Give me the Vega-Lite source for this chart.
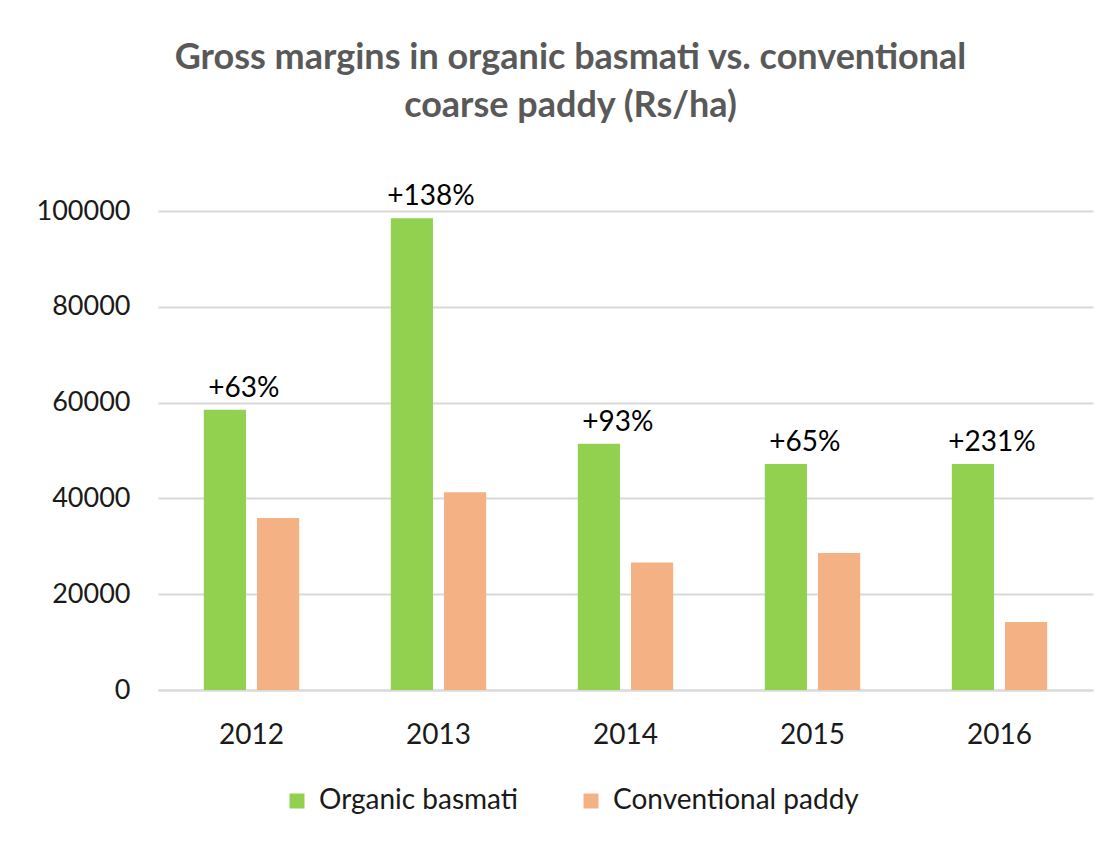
{
  "$schema": "https://vega.github.io/schema/vega-lite/v6.json",
  "autosize": {"type": "none"},
  "padding": {"left": 158, "top": 211, "right": 16, "bottom": 152},
  "width": 935,
  "height": 479,
  "background": "white",
  "title": {
    "text": ["Gross margins in organic basmati vs. conventional", "coarse paddy (Rs/ha)"],
    "font": "Lato",
    "fontSize": 36,
    "fontWeight": "bold",
    "color": "#595959",
    "anchor": "middle",
    "dx": -55,
    "offset": 58,
    "lineHeight": 48
  },
  "config": {
    "view": {"stroke": null},
    "font": "Lato"
  },
  "data": {
    "values": [
      {"year": "2012", "series": "Organic basmati", "value": 58500, "label": "+63%"},
      {"year": "2012", "series": "Conventional paddy", "value": 35900, "label": ""},
      {"year": "2013", "series": "Organic basmati", "value": 98500, "label": "+138%"},
      {"year": "2013", "series": "Conventional paddy", "value": 41300, "label": ""},
      {"year": "2014", "series": "Organic basmati", "value": 51400, "label": "+93%"},
      {"year": "2014", "series": "Conventional paddy", "value": 26600, "label": ""},
      {"year": "2015", "series": "Organic basmati", "value": 47200, "label": "+65%"},
      {"year": "2015", "series": "Conventional paddy", "value": 28600, "label": ""},
      {"year": "2016", "series": "Organic basmati", "value": 47200, "label": "+231%"},
      {"year": "2016", "series": "Conventional paddy", "value": 14200, "label": ""}
    ]
  },
  "encoding": {
    "x": {
      "field": "year", "type": "nominal",
      "scale": {"paddingInner": 0.49, "paddingOuter": 0.245},
      "axis": {"title": null, "labelAngle": 0, "ticks": false, "domain": true, "domainColor": "#d9d9d9", "domainWidth": 2, "labelFontSize": 28, "labelColor": "#1a1a1a", "labelPadding": 31, "labelFont": "Lato"}
    },
    "xOffset": {
      "field": "series", "type": "nominal",
      "sort": ["Organic basmati", "Conventional paddy"],
      "scale": {"paddingInner": 0.2075, "paddingOuter": 0}
    }
  },
  "layer": [
    {
      "mark": {"type": "bar"},
      "encoding": {
        "y": {
          "field": "value", "type": "quantitative",
          "scale": {"domain": [0, 100000], "nice": false},
          "axis": {"title": null, "values": [0, 20000, 40000, 60000, 80000, 100000], "format": "d", "ticks": false, "domain": false, "gridColor": "#d9d9d9", "gridWidth": 2, "labelFontSize": 27, "labelColor": "#1a1a1a", "labelPadding": 28, "labelFont": "Lato"}
        },
        "color": {
          "field": "series", "type": "nominal",
          "sort": ["Organic basmati", "Conventional paddy"],
          "scale": {"domain": ["Organic basmati", "Conventional paddy"], "range": ["#92D050", "#F4B183"]},
          "legend": {
            "title": null, "orient": "none", "direction": "horizontal",
            "legendX": 125, "legendY": 576,
            "symbolType": "square", "symbolSize": 225, "symbolStrokeWidth": 0,
            "labelFontSize": 28, "labelColor": "#1a1a1a", "labelFont": "Lato", "labelLimit": 0,
            "columnPadding": 58, "labelOffset": 8
          }
        }
      }
    },
    {
      "transform": [{"filter": "datum.label != ''"}],
      "mark": {"type": "text", "fontSize": 28, "color": "#000000", "baseline": "alphabetic", "dy": -13, "dx": 19, "font": "Lato"},
      "encoding": {
        "y": {"field": "value", "type": "quantitative"},
        "text": {"field": "label"}
      }
    }
  ]
}
